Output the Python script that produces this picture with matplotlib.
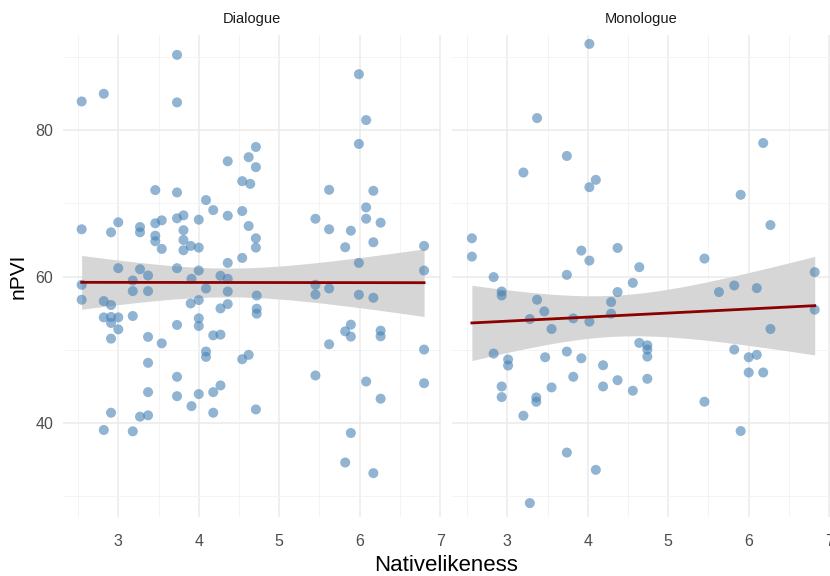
import numpy as np
import matplotlib
matplotlib.use("Agg")
import matplotlib.pyplot as plt
from matplotlib.ticker import MultipleLocator

plt.rcParams['font.family'] = ['Liberation Sans', 'DejaVu Sans']

# Dialogue panel (Nativelikeness, nPVI)
dia_x = [2.545, 2.82, 3.73, 3.73, 4.36, 4.62, 4.71, 4.71, 4.54, 4.64, 3.46, 3.73, 4.09, 4.18,
         4.36, 4.54, 4.62, 4.71, 4.71, 2.545, 2.91, 3.0, 3.27, 3.27, 3.46, 3.54, 3.73, 3.81,
         4.0, 3.46, 3.46, 3.81, 3.81, 3.81, 3.90, 4.0, 3.54, 4.54, 4.36, 3.0, 3.27, 3.73,
         4.0, 3.37, 3.18, 3.91, 4.27, 4.36, 2.545, 3.18, 3.37, 4.09, 4.36, 4.72, 2.545, 2.82,
         2.91, 3.90, 4.0, 4.36, 4.27, 4.72, 4.72, 2.82, 2.91, 3.0, 2.91, 3.0, 3.18, 4.0,
         4.0, 3.73, 2.91, 3.37, 3.54, 4.18, 4.27, 4.09, 4.09, 4.54, 4.62, 3.37, 3.73, 3.37,
         3.73, 4.0, 4.18, 4.27, 3.91, 2.91, 3.27, 3.37, 4.18, 4.71, 2.82, 3.18,
         5.99, 6.08, 5.99, 5.62, 6.17, 6.08, 6.08, 6.26, 5.45, 5.62, 5.89, 6.17, 5.82, 6.80,
         5.99, 6.80, 5.45, 5.45, 5.62, 5.99, 6.17, 5.89, 5.82, 5.89, 6.26, 6.26, 5.62, 6.80,
         5.45, 6.08, 6.80, 6.26, 5.89, 5.82, 6.17]
dia_y = [83.9, 84.95, 90.26, 83.77, 75.74, 76.29, 77.69, 74.93, 73.02, 72.65, 71.80, 71.48, 70.44, 69.07,
         68.30, 68.94, 66.90, 65.22, 63.95, 66.45, 66.04, 67.40, 66.76, 66.04, 67.27, 67.67, 67.95, 68.35,
         67.76, 65.58, 64.82, 66.32, 64.99, 63.59, 64.18, 63.95, 63.77, 62.54, 61.86, 61.14, 61.0, 61.14,
         60.82, 60.14, 59.46, 59.69, 60.10, 59.69, 58.87, 58.01, 58.01, 58.37, 57.96, 57.41, 56.83, 56.65,
         56.11, 56.33, 56.79, 56.24, 55.65, 55.61, 54.93, 54.42, 54.48, 54.42, 53.66, 52.79, 54.61, 54.29,
         53.25, 53.39, 51.52, 51.76, 50.88, 51.97, 52.07, 49.76, 49.03, 48.71, 49.31, 48.22, 46.31, 44.22,
         43.67, 43.95, 44.22, 45.13, 42.31, 41.41, 40.87, 41.05, 41.41, 41.86, 39.05, 38.87,
         87.62, 81.36, 78.10, 71.84, 71.70, 69.44, 67.89, 67.35, 67.89, 66.45, 66.26, 64.68, 64.0, 64.18,
         61.86, 60.82, 58.87, 57.55, 58.37, 57.51, 57.10, 53.43, 52.52, 51.80, 52.61, 51.84, 50.75, 50.03,
         46.49, 45.67, 45.44, 43.32, 38.64, 34.61, 33.16]

# Monologue panel
mono_x = [4.02, 3.37, 3.74, 3.20, 4.10, 4.02, 2.56, 2.56, 3.92, 4.37, 4.02, 4.64, 2.83, 3.74,
          4.56, 2.93, 2.93, 4.37, 3.37, 4.29, 3.46, 4.29, 3.28, 3.82, 4.02, 3.55, 2.83, 3.01,
          3.01, 3.47, 3.74, 3.92, 4.19, 4.64, 3.82, 2.93, 2.93, 3.36, 3.36, 3.55, 4.19, 4.37,
          4.56, 3.20, 3.74, 4.10, 3.28, 6.18, 5.90, 6.27, 5.45, 6.82, 5.63, 5.82, 6.10, 6.82,
          6.27, 4.74, 4.74, 4.74, 4.74, 5.82, 6.0, 6.10, 6.0, 6.18, 5.45, 5.90]
mono_y = [91.76, 81.63, 76.46, 74.20, 73.20, 72.20, 65.22, 62.72, 63.54, 63.90, 62.18, 61.28, 59.92, 60.23,
          59.14, 57.96, 57.41, 57.88, 56.83, 56.52, 55.24, 54.93, 54.20, 54.29, 53.84, 52.84, 49.48, 48.67,
          47.85, 48.98, 49.76, 48.84, 47.89, 50.94, 46.31, 44.99, 43.54, 43.5, 42.9, 44.86, 44.99, 45.85,
          44.41, 41.0, 35.97, 33.61, 29.07, 78.23, 71.16, 67.03, 62.45, 60.60, 57.88, 58.78, 58.42, 55.47,
          52.84, 50.61, 50.03, 49.07, 46.04, 50.03, 48.98, 49.31, 46.90, 46.90, 42.91, 38.91]

panels = [("Dialogue", dia_x, dia_y), ("Monologue", mono_x, mono_y)]


def lm_band(x, y, t_crit=1.98):
    x = np.asarray(x)
    y = np.asarray(y)
    b, a = np.polyfit(x, y, 1)
    n = len(x)
    resid = y - (a + b * x)
    s = np.sqrt(np.sum(resid ** 2) / (n - 2))
    xs = np.linspace(x.min(), x.max(), 80)
    se = s * np.sqrt(1 / n + (xs - x.mean()) ** 2 / np.sum((x - x.mean()) ** 2))
    fit = a + b * xs
    return xs, fit, fit - t_crit * se, fit + t_crit * se


fig = plt.figure(figsize=(8.3, 5.76), dpi=100)
positions = [[0.0759, 0.1024, 0.4554, 0.8368], [0.5446, 0.1024, 0.4554, 0.8368]]

for i, (name, x, y) in enumerate(panels):
    ax = fig.add_axes(positions[i])
    ax.set_xlim(2.313, 7.01)
    ax.set_ylim(27.17, 92.97)
    ax.xaxis.set_major_locator(MultipleLocator(1))
    ax.xaxis.set_minor_locator(MultipleLocator(0.5))
    ax.yaxis.set_major_locator(MultipleLocator(20))
    ax.yaxis.set_minor_locator(MultipleLocator(10))
    ax.grid(which='major', color='#ebebeb', lw=1.1)
    ax.grid(which='minor', color='#f3f3f3', lw=0.6)
    ax.set_axisbelow(True)
    for sp in ax.spines.values():
        sp.set_visible(False)
    ax.tick_params(which='both', length=0, labelsize=11.5, colors='#4d4d4d')
    ax.tick_params(axis='x', pad=12)
    ax.tick_params(axis='y', pad=7)
    if i == 1:
        ax.tick_params(labelleft=False)

    xs, fit, lo, hi = lm_band(x, y, 1.98 if i == 0 else 2.0)
    ax.fill_between(xs, lo, hi, color='#d6d6d6', lw=0, zorder=2)
    ax.scatter(x, y, s=52, color='#4682B4', alpha=0.6, edgecolors='none', zorder=3)
    ax.plot(xs, fit, color='#8B0000', lw=2.0, zorder=4)
    ax.set_title(name, fontsize=10.5, color='#1a1a1a', pad=9)
    if i == 0:
        ax.set_ylabel('nPVI', fontsize=15, labelpad=6)

fig.text(0.5378, 0.0, 'Nativelikeness', ha='center', va='bottom', fontsize=16)

plt.savefig('out.png', dpi=100)
